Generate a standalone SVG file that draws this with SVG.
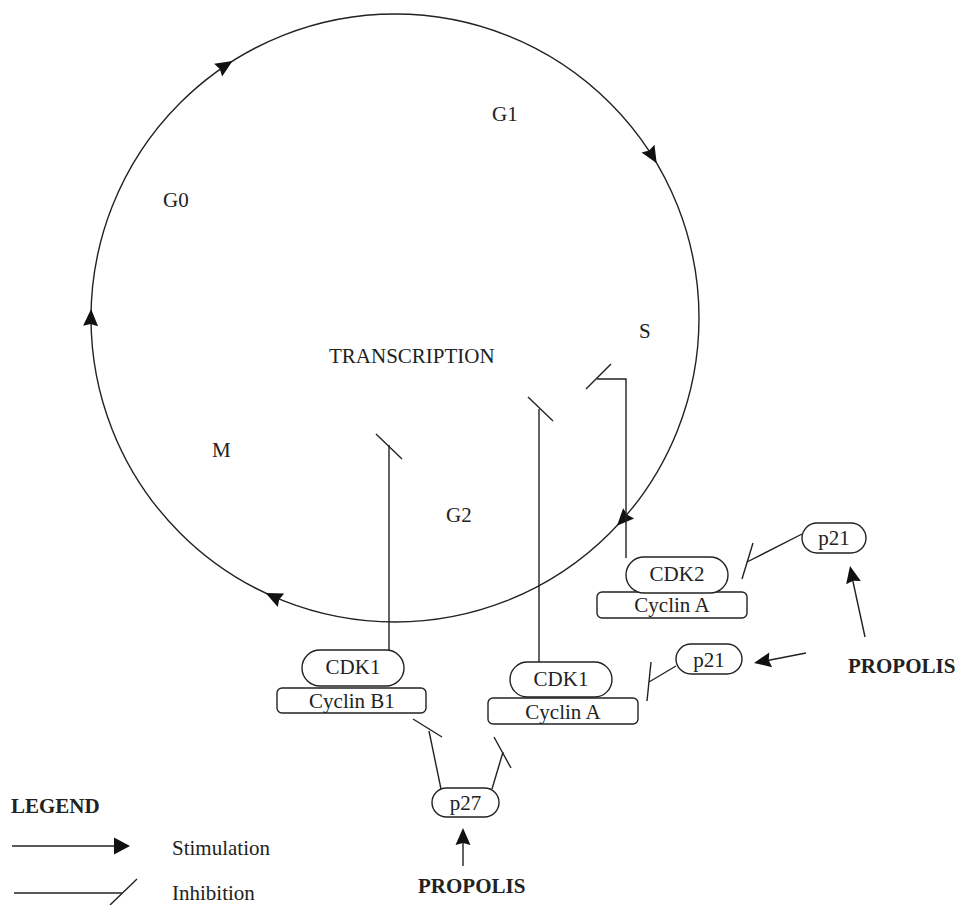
<svg xmlns="http://www.w3.org/2000/svg" xmlns:xlink="http://www.w3.org/1999/xlink" width="957" height="905" viewBox="0 0 957 905">
  <style>
    .ln { fill: none; stroke: #222; stroke-width: 1.4; }
    .box { fill: #fff; stroke: #222; stroke-width: 1.4; }
    .tx { font-family: "Liberation Serif", "Times New Roman", serif; font-size: 21px; fill: #222; }
    .c { text-anchor: middle; }
    .b { font-weight: bold; }
    .ah { fill: #111; stroke: none; }
  </style>
  <defs>
    <path id="ah" d="M0,0 L-17,-7.5 L-15,0 L-17,7.5 Z"/>
  </defs>

  <!-- cell cycle ring -->
  <g id="cycle">
    <circle class="ln" cx="395" cy="318" r="304"/>
    <use href="#ah" class="ah" transform="translate(91.1,309) rotate(-88.3)"/>
    <use href="#ah" class="ah" transform="translate(232.5,61) rotate(-32.3)"/>
    <use href="#ah" class="ah" transform="translate(656.7,163.3) rotate(59.4)"/>
    <use href="#ah" class="ah" transform="translate(617,525.7) rotate(133.1)"/>
    <use href="#ah" class="ah" transform="translate(265.6,593.1) rotate(205.2)"/>
  </g>

  <!-- phase labels -->
  <g id="phases">
    <text class="tx" x="492" y="121">G1</text>
    <text class="tx" x="163" y="207">G0</text>
    <text class="tx" x="639" y="338">S</text>
    <text class="tx" x="329" y="363">TRANSCRIPTION</text>
    <text class="tx" x="212" y="457">M</text>
    <text class="tx" x="446" y="522">G2</text>
  </g>

  <!-- connectors -->
  <g id="connectors">
    <!-- CDK2 / Cyclin A inhibits S -->
    <polyline class="ln" points="626,558 626,379 597,379"/>
    <line class="ln" x1="586" y1="389" x2="611" y2="364"/>
    <!-- CDK1 / Cyclin A -->
    <line class="ln" x1="539" y1="409" x2="539" y2="663"/>
    <line class="ln" x1="528" y1="397" x2="553" y2="421"/>
    <!-- CDK1 / Cyclin B1 -->
    <line class="ln" x1="389" y1="445" x2="389" y2="651"/>
    <line class="ln" x1="376" y1="434" x2="402" y2="459"/>
    <!-- p27 inhibitions -->
    <line class="ln" x1="441" y1="789" x2="429" y2="731"/>
    <line class="ln" x1="413" y1="719" x2="442" y2="737"/>
    <line class="ln" x1="492" y1="789" x2="503" y2="752"/>
    <line class="ln" x1="494" y1="737" x2="511" y2="768"/>
    <!-- p21 inhibitions -->
    <line class="ln" x1="802" y1="534" x2="747" y2="562"/>
    <line class="ln" x1="753" y1="543" x2="742" y2="579"/>
    <line class="ln" x1="676" y1="666" x2="649" y2="682"/>
    <line class="ln" x1="651" y1="662" x2="647" y2="701"/>
    <!-- propolis stimulations -->
    <line class="ln" x1="806" y1="653" x2="765" y2="661"/>
    <use href="#ah" class="ah" transform="translate(754,663) rotate(169.1)"/>
    <line class="ln" x1="865" y1="637" x2="852" y2="577"/>
    <use href="#ah" class="ah" transform="translate(850,566) rotate(-101.9)"/>
    <line class="ln" x1="463" y1="866" x2="463" y2="840"/>
    <use href="#ah" class="ah" transform="translate(463,828) rotate(-90)"/>
  </g>

  <!-- complexes -->
  <g id="cyclinB1">
    <rect class="box" x="277" y="688" width="149" height="25" rx="5"/>
    <text class="tx c" x="352" y="708">Cyclin B1</text>
  </g>
  <g id="cdk1-b1">
    <rect class="box" x="302" y="650" width="102" height="36" rx="18"/>
    <text class="tx c" x="353" y="674">CDK1</text>
  </g>

  <g id="cyclinA-1">
    <rect class="box" x="488" y="698" width="150" height="26" rx="5"/>
    <text class="tx c" x="563" y="719">Cyclin A</text>
  </g>
  <g id="cdk1-a">
    <rect class="box" x="510" y="662" width="102" height="35" rx="17.5"/>
    <text class="tx c" x="561" y="686">CDK1</text>
  </g>

  <g id="cyclinA-2">
    <rect class="box" x="597" y="592" width="150" height="26" rx="5"/>
    <text class="tx c" x="672" y="612">Cyclin A</text>
  </g>
  <g id="cdk2">
    <rect class="box" x="626" y="557" width="102" height="36" rx="18"/>
    <text class="tx c" x="677" y="581">CDK2</text>
  </g>

  <g id="p21-top">
    <rect class="box" x="802" y="523" width="64" height="30" rx="15"/>
    <text class="tx c" x="834" y="545">p21</text>
  </g>
  <g id="p21-low">
    <rect class="box" x="676" y="644" width="66" height="30" rx="15"/>
    <text class="tx c" x="709" y="667">p21</text>
  </g>
  <g id="p27">
    <rect class="box" x="432" y="788" width="67" height="29" rx="14.5"/>
    <text class="tx c" x="465.5" y="810">p27</text>
  </g>

  <g id="propolis-right">
    <text class="tx b" x="848" y="673">PROPOLIS</text>
  </g>
  <g id="propolis-bottom">
    <text class="tx b" x="418" y="893">PROPOLIS</text>
  </g>

  <!-- legend -->
  <g id="legend">
    <text class="tx b" x="11" y="813">LEGEND</text>
    <line class="ln" x1="12" y1="846" x2="118" y2="846"/>
    <path class="ah" d="M130,846 L114,837.5 L114,854.5 Z"/>
    <text class="tx" x="172" y="855">Stimulation</text>
    <line class="ln" x1="14" y1="893" x2="122" y2="893"/>
    <line class="ln" x1="110" y1="905" x2="137" y2="879"/>
    <text class="tx" x="172" y="900">Inhibition</text>
  </g>
</svg>
